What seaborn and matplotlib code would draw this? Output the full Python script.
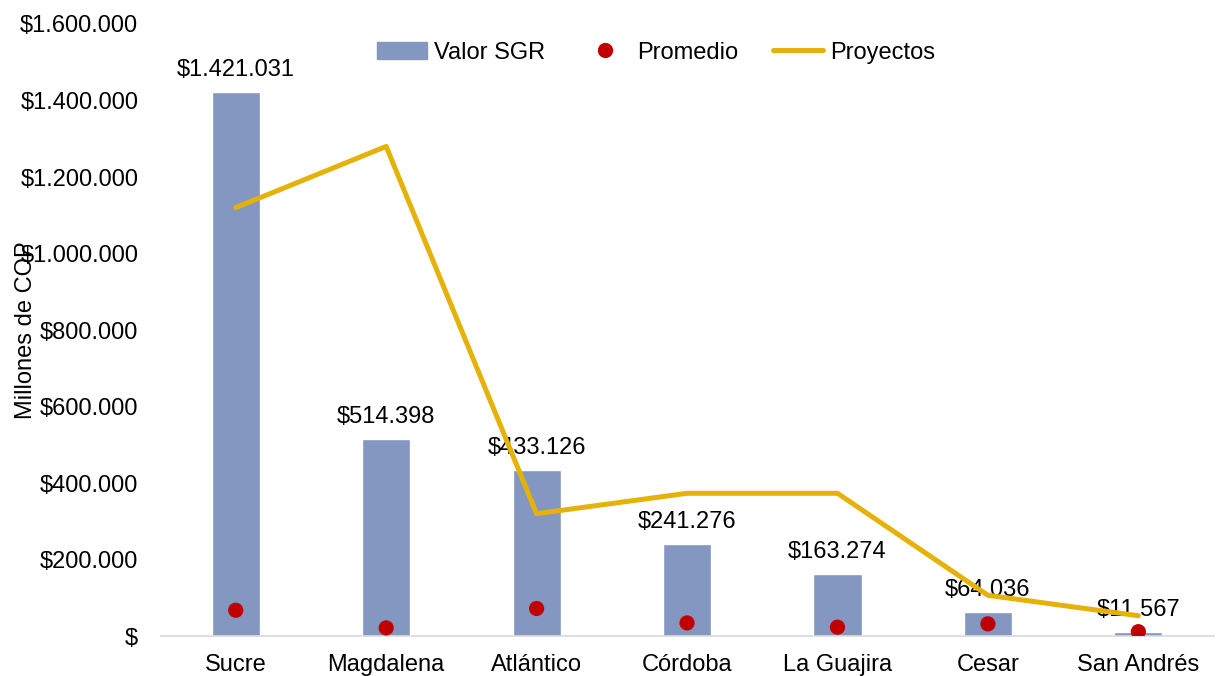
import matplotlib
matplotlib.use('Agg')
import matplotlib.pyplot as plt
import seaborn as sns
import pandas as pd
from matplotlib.ticker import FuncFormatter
from matplotlib.lines import Line2D
from matplotlib.patches import Patch

departamentos = ['Sucre', 'Magdalena', 'Atlántico', 'Córdoba', 'La Guajira', 'Cesar', 'San Andrés']
valor_sgr = [1421031, 514398, 433126, 241276, 163274, 64036, 11567]
promedio = [67668, 21433, 72188, 34468, 23325, 32018, 11567]
proyectos = [21, 24, 6, 7, 7, 2, 1]

df = pd.DataFrame({'depto': departamentos, 'valor': valor_sgr,
                   'promedio': promedio, 'proyectos': proyectos})

sns.set_style('white')
plt.rcParams['font.family'] = ['Liberation Sans', 'DejaVu Sans']
plt.rcParams['text.color'] = 'black'
plt.rcParams['xtick.color'] = 'black'
plt.rcParams['ytick.color'] = 'black'
plt.rcParams['axes.labelcolor'] = 'black'

bar_color = '#8497C0'
dot_color = '#C00000'
line_color = '#E5B20A'
fs = 17

fig = plt.figure(figsize=(12.16, 6.76), dpi=100)
ax = fig.add_axes([0.132, 0.059, 0.866, 0.9055])

sns.barplot(data=df, x='depto', y='valor', color=bar_color, width=0.32,
            saturation=1, ax=ax)
sns.scatterplot(data=df, x='depto', y='promedio', color=dot_color, s=120,
                edgecolor='none', zorder=4, ax=ax)

for i, v in enumerate(valor_sgr):
    ax.annotate('$' + f'{v:,}'.replace(',', '.'), (i, v), xytext=(0, 8),
                textcoords='offset points', ha='center', va='bottom', fontsize=fs)

ax.set_ylim(0, 1600000)
ax.set_yticks(range(0, 1600001, 200000))
ax.yaxis.set_major_formatter(FuncFormatter(
    lambda v, p: '$' if v == 0 else '$' + f'{int(v):,}'.replace(',', '.')))
ax.set_xlim(-0.5, 6.5)
ax.tick_params(axis='both', labelsize=fs, length=0)
ax.tick_params(axis='x', pad=13)
ax.tick_params(axis='y', pad=16)
ax.set_xlabel('')
ax.set_ylabel('Millones de COP', fontsize=fs)
ax.yaxis.set_label_coords(-0.117, 0.5)
for s in ['top', 'right', 'left']:
    ax.spines[s].set_visible(False)
ax.spines['bottom'].set_color('#D9D9D9')
ax.spines['bottom'].set_linewidth(1.2)

ax2 = ax.twinx()
sns.lineplot(data=df, x='depto', y='proyectos', color=line_color, linewidth=3.6,
             ax=ax2, zorder=3)
ax2.set_ylim(0, 30)
ax2.set_yticks([])
ax2.set_ylabel('')
for s in ['top', 'right', 'left', 'bottom']:
    ax2.spines[s].set_visible(False)

handles = [Patch(color=bar_color),
           Line2D([], [], marker='o', color=dot_color, linestyle='none', markersize=10),
           Line2D([], [], color=line_color, linewidth=3.6)]
fig.legend(handles, ['Valor SGR', 'Promedio', 'Proyectos'], loc='center',
           bbox_to_anchor=(0.5395, 0.922), ncol=3, frameon=False, fontsize=fs,
           handlelength=2.1, handletextpad=0.3, columnspacing=1.5)

fig.savefig('out.png', dpi=100)
